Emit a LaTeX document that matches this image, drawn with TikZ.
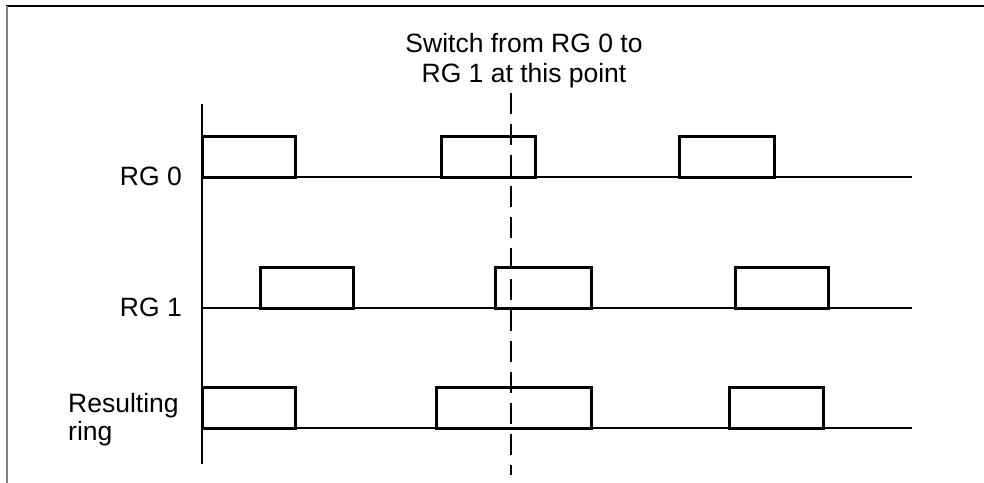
\documentclass[tikz,border=0pt]{standalone}
\usepackage{fontspec}
\setmainfont{Liberation Sans}
\usetikzlibrary{positioning}
\begin{document}
\begin{tikzpicture}[x=1bp, y=-1bp,
    lbl/.style={font=\fontsize{26.5bp}{30bp}\selectfont, inner sep=0pt},
    sigline/.style={line width=2bp},
    pulsebox/.style={line width=3bp, line join=miter},
    axisline/.style={line width=2.5bp},
    switchline/.style={line width=2.5bp, dash pattern=on 21bp off 10bp},
  ]
  \useasboundingbox (0,0) rectangle (984,483);
  % frame
  \draw[line width=2bp] (6,6.5) -- (984,6.5);
  \draw[line width=2bp, gray] (6.5,6) -- (6.5,483);

  % labels
  \node[lbl, anchor=north, align=center] (switchtxt) at (524,33) {Switch from RG 0 to\\RG 1 at this point};
  \node[lbl, anchor=east] (rg0lbl) at (182,176) {RG 0};
  \node[lbl, anchor=east] (rg1lbl) at (182,307) {RG 1};
  \node[lbl, anchor=north west, align=left, font=\fontsize{26.5bp}{28.5bp}\selectfont] (ringlbl) at (68,393) {Resulting\\ring};

  % vertical axis
  \coordinate (axtop) at (202,104);
  \coordinate (axbot) at (202,464);
  \draw[axisline] (axtop) -- (axbot);

  % pulses
  \foreach \y/\pulses in {177/{202/295,441/535,679/774}, 308/{260/353,495/591,735/828}, 428/{202/295,436/591,729/823}}
    \foreach \a/\b in \pulses
      \draw[pulsebox] (\a,\y+0.5) rectangle (\b,\y-40.5);

  % signal traces
  \foreach \name/\y in {rg0/177, rg1/308, ring/428} {
    \coordinate (\name) at (202,\y);
    \draw[sigline] (\name) -- ++(710,0);
  }

  % switch point
  \coordinate (swtop) at (511,93);
  \coordinate (swbot) at (511,475);
  \draw[switchline] (swtop) -- (swbot);
\end{tikzpicture}
\end{document}
